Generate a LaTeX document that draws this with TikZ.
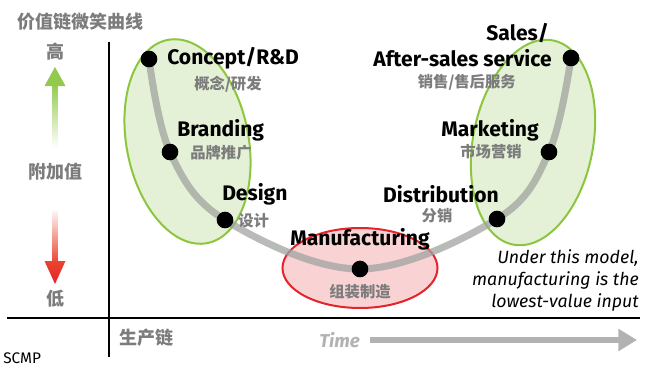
\documentclass[tikz,border=0pt]{standalone}
\usepackage{fontspec}
\setmainfont{Fira Sans}
\newfontfamily\cjk{Noto Sans CJK SC}
\usetikzlibrary{arrows.meta}
\definecolor{lgreen}{HTML}{E4F1D6}
\definecolor{dgreen}{HTML}{8CC63F}
\definecolor{agreen}{HTML}{93CA4E}
\definecolor{lred}{HTML}{F9D2D4}
\definecolor{dred}{HTML}{E5232A}
\definecolor{ared}{HTML}{E8452F}
\definecolor{cgray}{HTML}{7C7C7C}
\definecolor{curvegray}{HTML}{A0A4A0}
\definecolor{timegray}{HTML}{B2B2B2}
\tikzset{
  greenell/.style={draw=dgreen, fill=lgreen, line width=1.5pt},
  redell/.style={draw=dred, fill=lred, line width=1.5pt},
  curveline/.style={draw=curvegray, draw opacity=0.75, line width=5.3pt},
  dot/.style={circle, fill=black, inner sep=0pt, minimum size=12.5pt},
  lab/.style={inner sep=0pt, font=\fontsize{15.8}{18}\selectfont\bfseries},
  cn/.style={inner sep=0pt, text=cgray, font=\cjk\bfseries\fontsize{11.5}{13}\selectfont},
  big/.style={inner sep=0pt, text=cgray, font=\cjk\bfseries\fontsize{13.5}{16}\selectfont},
  axisline/.style={line width=1.5pt, black},
  note/.style={inner sep=0pt, align=right, font=\fontsize{13.3}{16.5}\selectfont\itshape},
}
\begin{document}
\begin{tikzpicture}[x=0.75pt,y=-0.75pt]
\useasboundingbox (0,0) rectangle (650,372);
% ellipses
\draw[greenell, rotate around={11:(187.5,141.5)}] (187.5,141.5) ellipse [x radius=61, y radius=103.5];
\draw[greenell, rotate around={-11:(533,142.5)}] (533,142.5) ellipse [x radius=60, y radius=104];
\draw[redell] (360,268) ellipse [x radius=77.5, y radius=40];
% curve points
\coordinate (p1) at (149,59);
\coordinate (p2) at (170,152);
\coordinate (p3) at (225,220);
\coordinate (p4) at (360,269);
\coordinate (p5) at (497,219);
\coordinate (p6) at (549,152);
\coordinate (p7) at (571,58);
\draw[curveline] plot[smooth, tension=0.6] coordinates {(p1) (p2) (p3) (p4) (p5) (p6) (p7)};
\node[dot] (d1) at (p1) {};
\node[dot] (d2) at (p2) {};
\node[dot] (d3) at (p3) {};
\node[dot] (d4) at (p4) {};
\node[dot] (d5) at (p5) {};
\node[dot] (d6) at (p6) {};
\node[dot] (d7) at (p7) {};
% labels
\node[lab, anchor=west] (l1) at (167,58) {Concept/R\&D};
\node[cn] (c1) at (228,84) {概念/研发};
\node[lab, anchor=west] (l2) at (177,130) {Branding};
\node[cn, anchor=west] (c2) at (190,153) {品牌推广};
\node[lab, anchor=west] (l3) at (222,194) {Design};
\node[cn, anchor=west] (c3) at (238,221) {设计};
\node[lab] (l4) at (360,239) {Manufacturing};
\node[cn] (c4) at (360,292) {组装制造};
\node[lab, anchor=east] (l5) at (499,194) {Distribution};
\node[cn] (c5) at (437,216) {分销};
\node[lab, anchor=east] (l6) at (539,130) {Marketing};
\node[cn] (c6) at (491,152) {市场营销};
\node[lab, anchor=east] (l7a) at (549,33) {Sales/};
\node[lab, anchor=east] (l7b) at (552,58) {After-sales service};
\node[cn, anchor=east] (c7) at (516,82) {销售/售后服务};
\node[note, anchor=east] (n1) at (639,280) {Under this model,\\manufacturing is the\\lowest-value input};
% axes
\draw[axisline] (109,42) -- (109,357);
\draw[axisline] (7,318) -- (640,318);
\node[big, anchor=west] (title) at (17,22) {价值链微笑曲线};
\node[big] (hi) at (55,52) {高};
\node[big] (mid) at (55,172) {附加值};
\node[big] (lo) at (55,299) {低};
\node[big, anchor=west] (chain) at (119,338) {生产链};
\node[inner sep=0pt, anchor=west, font=\fontsize{11.5}{13}\selectfont] (src) at (3,358) {SCMP};
% value arrows
\shade[top color=agreen, bottom color=white] (52.5,84) rectangle (57.5,148);
\fill[agreen] (55,67) -- (65.5,86) -- (44.5,86) -- cycle;
\shade[top color=white, bottom color=ared] (52.5,208) rectangle (57.5,263);
\shade[top color=ared, bottom color=dred] (44.5,261) -- (65.5,261) -- (55,284) -- cycle;
% time arrow
\node[inner sep=0pt, anchor=west, text=timegray, font=\fontsize{14}{16}\selectfont\bfseries\itshape] (time) at (319,340) {Time};
\coordinate (t0) at (370,340);
\coordinate (t1) at (637,340);
\draw[timegray, line width=4pt, -{Triangle[length=14pt,width=16pt]}] (t0) -- (t1);
\end{tikzpicture}
\end{document}
